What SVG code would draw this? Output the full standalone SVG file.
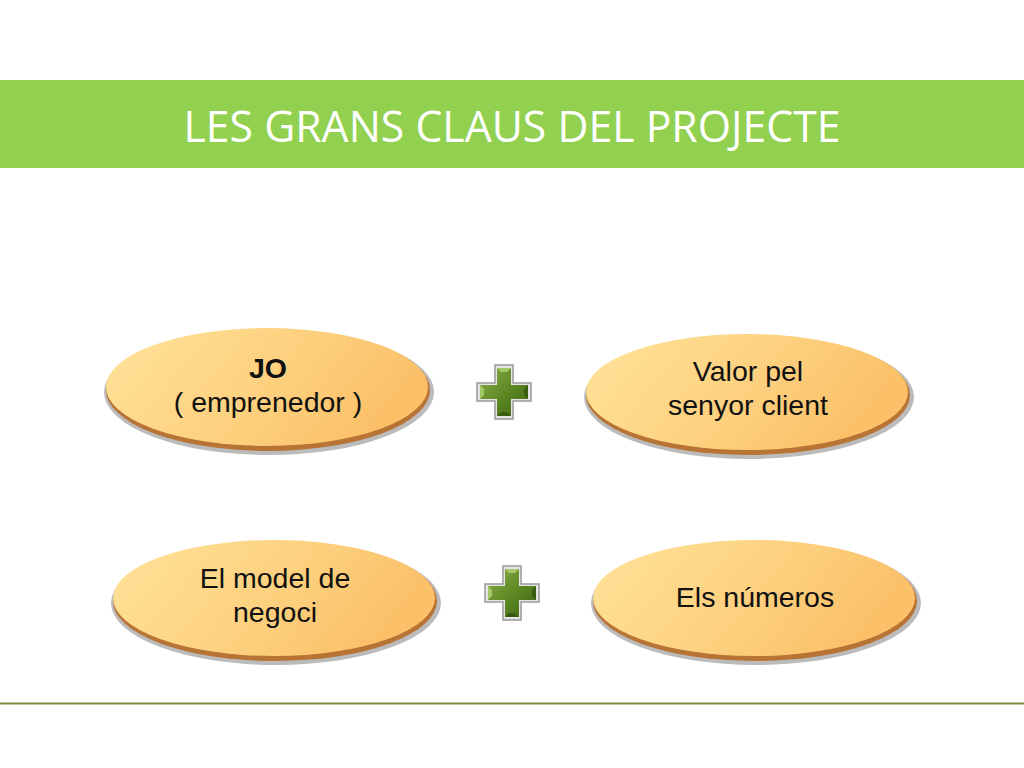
<svg xmlns="http://www.w3.org/2000/svg" width="1024" height="768" viewBox="0 0 1024 768">
<defs>
<linearGradient id="gfill" x1="0" y1="0" x2="1" y2="0.3">
<stop offset="0" stop-color="#FFE39A"/>
<stop offset="0.6" stop-color="#FDD07E"/>
<stop offset="1" stop-color="#FBC068"/>
</linearGradient>
<linearGradient id="gplus" x1="0" y1="0" x2="1" y2="1">
<stop offset="0" stop-color="#8FB04A"/>
<stop offset="0.5" stop-color="#5E8A24"/>
<stop offset="1" stop-color="#3F6414"/>
</linearGradient>
<g id="plus">
<path d="M-9,-27 H9 V-9 H27 V9 H9 V27 H-9 V9 H-27 V-9 H-9 Z" fill="#E4E4E4" stroke="#9A9A9A" stroke-width="1.5"/>
<path d="M-7,-24 H7 V-7 H24 V7 H7 V24 H-7 V7 H-24 V-7 H-7 Z" fill="url(#gplus)"/>
<path d="M-7,-24 H7 L3,-20 H-3 Z M-24,-7 V7 L-20,3 V-3 Z" fill="#A6C766"/>
<path d="M-7,24 H7 L3,20 H-3 Z M24,-7 V7 L20,3 V-3 Z" fill="#3A5C12"/>
</g>
</defs>
<style>
.oval-shadow{fill:#9E9E9E;opacity:0.7}
.oval-rim{fill:#B87434}
.oval{fill:url(#gfill)}
.lbl{font-family:"Liberation Sans",Arial,sans-serif;font-size:28.5px;fill:#111;text-anchor:middle}
.bold{font-weight:bold}
</style>
<rect width="1024" height="768" fill="#FFFFFF"/>
<g id="header">
<rect x="0" y="80" width="1024" height="88" fill="#92D050"/>
<text x="512" y="142" font-family="'Open Sans','Liberation Sans',sans-serif" font-size="44" fill="#FFFFFF" text-anchor="middle" textLength="657" lengthAdjust="spacingAndGlyphs">LES GRANS CLAUS DEL PROJECTE</text>
</g>
<g id="node-jo">
<ellipse class="oval-shadow" cx="269" cy="392" rx="165" ry="63"/>
<ellipse class="oval-rim" cx="268" cy="390" rx="162" ry="61"/>
<ellipse class="oval" cx="267" cy="387" rx="161" ry="59"/>
<text class="lbl bold" x="268" y="378">JO</text>
<text class="lbl" x="268" y="412">( emprenedor )</text>
</g>
<g id="node-valor">
<ellipse class="oval-shadow" cx="749" cy="397" rx="165" ry="62"/>
<ellipse class="oval-rim" cx="748" cy="395" rx="162" ry="60"/>
<ellipse class="oval" cx="747" cy="392" rx="161" ry="58"/>
<text class="lbl" x="748" y="381">Valor pel</text>
<text class="lbl" x="748" y="415">senyor client</text>
</g>
<g id="node-model">
<ellipse class="oval-shadow" cx="276" cy="603" rx="165" ry="62"/>
<ellipse class="oval-rim" cx="275" cy="601" rx="162" ry="60"/>
<ellipse class="oval" cx="274" cy="598" rx="161" ry="58"/>
<text class="lbl" x="275" y="588">El model de</text>
<text class="lbl" x="275" y="622">negoci</text>
</g>
<g id="node-numeros">
<ellipse class="oval-shadow" cx="756" cy="603" rx="165" ry="62"/>
<ellipse class="oval-rim" cx="755" cy="601" rx="162" ry="60"/>
<ellipse class="oval" cx="754" cy="598" rx="161" ry="58"/>
<text class="lbl" x="755" y="607">Els números</text>
</g>
<g id="plus-1"><use href="#plus" x="504" y="392"/></g>
<g id="plus-2"><use href="#plus" x="512" y="593"/></g>
<g id="connectors"></g>
<line x1="0" y1="703.5" x2="1024" y2="703.5" stroke="#7A8C3C" stroke-width="2"/>
</svg>
